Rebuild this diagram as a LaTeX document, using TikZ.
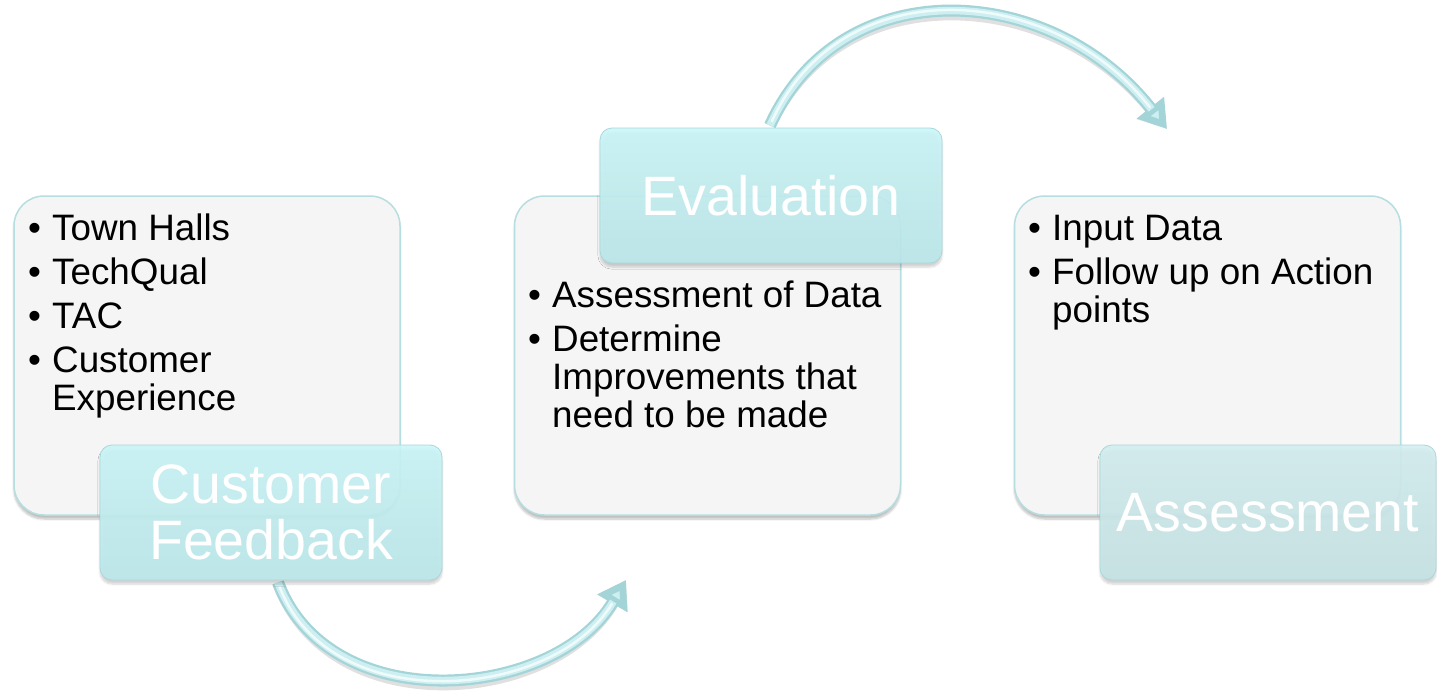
\documentclass[tikz,border=0pt]{standalone}
\usepackage{fontspec}
\setmainfont{Liberation Sans}
\usetikzlibrary{arrows.meta,calc,shadows.blur}

\definecolor{boxfill}{HTML}{F5F5F5}
\definecolor{boxline}{HTML}{B6DEE1}
\definecolor{tealtop}{HTML}{CAF6F8}
\definecolor{tealbot}{HTML}{BCE8EB}
\definecolor{tealedge}{HTML}{A9D8DB}
\definecolor{greytop}{HTML}{D3EEF0}
\definecolor{greybot}{HTML}{C6E3E5}
\definecolor{arrowedge}{HTML}{A3D4D8}
\definecolor{arrowmid}{HTML}{CDEFF1}
\definecolor{arrowhi}{HTML}{F6FDFD}

\newcommand\bodyfont{\fontsize{36.8pt}{38pt}\selectfont}
\newcommand\titlefont{\fontsize{55.5pt}{56pt}\selectfont}
\newcommand\bul{\makebox[24pt][l]{•}}

% glossy curved arrow: start, two control points, end
\newcommand\flowarrow[4]{%
  \draw[shift={(0,5)}, line width=12pt, black, opacity=0.12,
        -{Triangle[length=27pt,width=33pt]}]
    #1 .. controls #2 and #3 .. #4;
  \draw[line width=12pt, arrowedge,
        -{Triangle[length=27pt,width=33pt,fill=arrowmid]}]
    #1 .. controls #2 and #3 .. #4;
  \draw[line width=7.5pt, arrowmid, shorten >=25pt]
    #1 .. controls #2 and #3 .. #4;
  \draw[line width=2.5pt, arrowhi, opacity=0.85, shorten >=27pt, shorten <=4pt]
    #1 .. controls #2 and #3 .. #4;
}

\tikzset{
  panel/.style={draw=boxline, line width=1.5pt, fill=boxfill,
    rounded corners=30pt, minimum width=386pt, minimum height=319pt,
    blur shadow={shadow xshift=0pt, shadow yshift=-4pt,
                 shadow opacity=25, shadow blur steps=6}},
  tab/.style={rounded corners=12pt, minimum width=342pt, minimum height=135pt,
    top color=tealtop, bottom color=tealbot, fill opacity=0.9,
    draw=tealedge, line width=0.8pt, text=white, text opacity=1,
    font=\titlefont, align=center, inner sep=0pt,
    blur shadow={shadow xshift=0pt, shadow yshift=-4pt,
                 shadow opacity=20, shadow blur steps=6}},
  greytab/.style={tab, top color=greytop, bottom color=greybot},
  bullets/.style={anchor=base west, inner sep=0pt, font=\bodyfont},
}

\begin{document}
\begin{tikzpicture}[x=1pt,y=-1pt]
\useasboundingbox (0,0) rectangle (1437,693);

% large content panels
\node[panel] (p1) at (207,355.5) {};
\node[panel] (p2) at (707.5,355.5) {};
\node[panel] (p3) at (1207.5,355.5) {};

% panel texts
\node[bullets] (t1) at (28,240) {\begin{tabular}[t]{@{}l@{}l@{}}
\bul & Town Halls\\[6pt]
\bul & TechQual\\[6pt]
\bul & TAC\\[6pt]
\bul & Customer\\
     & Experience
\end{tabular}};
\node[bullets] (t2) at (528,307) {\begin{tabular}[t]{@{}l@{}l@{}}
\bul & Assessment of Data\\[6pt]
\bul & Determine\\
     & Improvements that\\
     & need to be made
\end{tabular}};
\node[bullets] (t3) at (1028,240) {\begin{tabular}[t]{@{}l@{}l@{}}
\bul & Input Data\\[6pt]
\bul & Follow up on Action\\
     & points
\end{tabular}};

% title tab positions; the arrows hang from them
\path (271,512.5) coordinate (cfpos) (771,195.5) coordinate (evpos);
\coordinate (a1end) at (626,580);
\coordinate (a2end) at (1167,129);

% arrows drawn first so the tabs cover their tails
\flowarrow{($(cfpos)+(7,70)$)}{(330,720)}{(555,700)}{(a1end)}
\flowarrow{($(evpos)+(-1,-70)$)}{(840,-30)}{(1050,-20)}{(a2end)}

\node[tab] (cf) at (cfpos) {Customer\\Feedback};
\node[tab] (ev) at (evpos) {Evaluation};
\node[greytab, minimum width=336pt] (as) at (1268,512.5) {Assessment};

\end{tikzpicture}
\end{document}
